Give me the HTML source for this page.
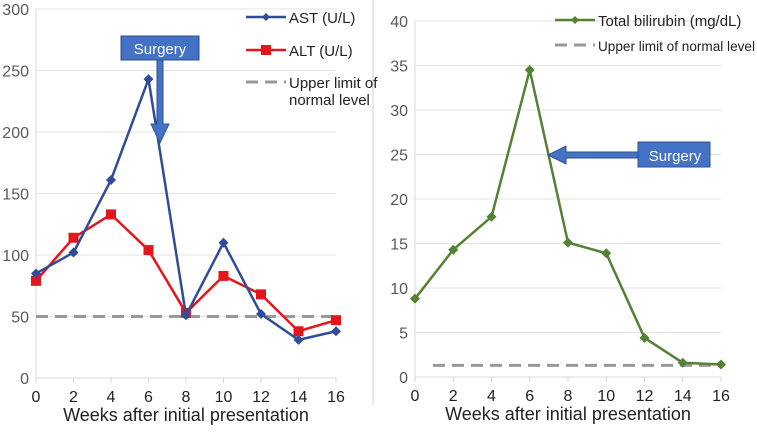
<!DOCTYPE html>
<html><head><meta charset="utf-8"><style>
body{margin:0;background:#fff}
svg text{font-family:"Liberation Sans",sans-serif}
</style></head><body>
<svg width="757" height="428" viewBox="0 0 757 428">
<g id="left"></g>
<g id="right"></g>
<line x1="373" y1="0" x2="373" y2="405" stroke="#d0d0d0" stroke-width="1"/>
</svg>
<script>
const weeks=[0,2,4,6,8,10,12,14,16];
const astValues=[85,102,161,243,51,110,52,31,38];
const altValues=[79,114,133,104,53,83,68,38,47];
const bilirubinValues=[8.8,14.3,18,34.5,15.1,13.9,4.4,1.6,1.4];
const leftTicks=[0,50,100,150,200,250,300];
const rightTicks=[0,5,10,15,20,25,30,35,40];
const astLimit=50, biliLimit=1.3;
const NS='http://www.w3.org/2000/svg';
function mk(p,t,a,txt){const e=document.createElementNS(NS,t);for(const k in a)e.setAttribute(k,a[k]);if(txt!=null)e.textContent=txt;p.appendChild(e);return e;}
function chart(g,x0,x1,y0,yTop,ymax,ticks,gridRight){
  const sx=v=>x0+(v/16)*(x1-x0), sy=v=>y0-(v/ymax)*(y0-yTop);
  ticks.forEach(t=>{
    if(t>0){const l=mk(g,'line',{x1:x0,x2:gridRight,y1:sy(t),y2:sy(t),stroke:'#e3e3e3'});}
    const tx=mk(g,'text',{x:x0-7,y:sy(t)+6,'text-anchor':'end','font-size':16,fill:'#595959'},t);
    
  });
  const ax=mk(g,'line',{x1:x0,x2:x0,y1:sy(ticks[ticks.length-1]),y2:y0+5,stroke:'#d9d9d9'});
  const bx=mk(g,'line',{x1:x0,x2:x1,y1:y0,y2:y0,stroke:'#d9d9d9'});
  weeks.forEach(w=>{
    const tk=mk(g,'line',{x1:sx(w),x2:sx(w),y1:y0,y2:y0+5,stroke:'#d9d9d9'});
    const t=mk(g,'text',{x:sx(w),y:y0+24,'text-anchor':'middle','font-size':16,fill:'#222'},w);
    
  });
  const tt=mk(g,'text',{x:(x0+x1)/2,y:y0+43,'text-anchor':'middle','font-size':18,fill:'#222'},'Weeks after initial presentation');
  
  return {sx,sy};
}
function series(g,sx,sy,vals,color,shape,name){
  const pl=mk(g,'polyline',{points:vals.map((v,i)=>sx(weeks[i])+','+sy(v)).join(' '),fill:'none',stroke:color,'stroke-width':2.5});
  
  vals.forEach((v,i)=>{const x=sx(weeks[i]),y=sy(v);let m;
    if(shape==='sq')m=mk(g,'rect',{x:x-5,y:y-5,width:10,height:10,fill:color});
    else m=mk(g,'polygon',{points:`${x},${y-5} ${x+5},${y} ${x},${y+5} ${x-5},${y}`,fill:color});
    });
}
function legend(g,x,y,color,shape,label,dash,fs,tl){
  const l=mk(g,'line',{x1:x,x2:x+40,y1:y,y2:y,stroke:color,'stroke-width':dash?3:2.5});
  if(dash)l.setAttribute('stroke-dasharray','12 7');
  
  if(shape==='sq'){const m=mk(g,'rect',{x:x+15,y:y-5,width:10,height:10,fill:color});}
  if(shape==='di'){const m=mk(g,'polygon',{points:`${x+20},${y-4} ${x+24},${y} ${x+20},${y+4} ${x+16},${y}`,fill:color});}
  label.forEach((s,i)=>{const t=mk(g,'text',{x:x+43,y:y+6+i*17,'font-size':fs||15,fill:'#222'},s);
    if(tl){t.setAttribute('textLength',tl);t.setAttribute('lengthAdjust','spacingAndGlyphs');}
    });
}
// left
const L=document.getElementById('left');
const a=chart(L,36,336,378,9,300,leftTicks,336);
const ll=mk(L,'line',{x1:36,x2:336,y1:a.sy(astLimit),y2:a.sy(astLimit),stroke:'#999','stroke-width':3,'stroke-dasharray':'12 7'});

series(L,a.sx,a.sy,altValues,'#e3161b','sq','alt');
series(L,a.sx,a.sy,astValues,'#2f4d97','di','ast');
legend(L,246,17,'#2f4d97','di',['AST (U/L)']);
legend(L,246,50,'#e3161b','sq',['ALT (U/L)']);
legend(L,246,82,'#999',null,['Upper limit of','normal level'],true);
const g1=mk(L,'g',{});
mk(g1,'polygon',{points:'157,60 163,60 163,124 169,124 160,143 151,124 157,124',fill:'#4472c4',stroke:'#2f528f'});
mk(g1,'rect',{x:121,y:36,width:78,height:24,fill:'#4472c4',stroke:'#2f528f'});
mk(g1,'text',{x:160,y:54,'text-anchor':'middle','font-size':15,fill:'#fff'},'Surgery');
// right
const R=document.getElementById('right');
const b=chart(R,415,721,377,21,40,rightTicks,721);
const rl=mk(R,'line',{x1:433,x2:721,y1:b.sy(biliLimit),y2:b.sy(biliLimit),stroke:'#999','stroke-width':3,'stroke-dasharray':'12 7'});

series(R,b.sx,b.sy,bilirubinValues,'#548235','di','bilirubin');
legend(R,555,20,'#548235','di',['Total bilirubin (mg/dL)'],false,15);
legend(R,555,45,'#999',null,['Upper limit of normal level'],true,14,157);
const g2=mk(R,'g',{});
mk(g2,'polygon',{points:'638,152 566,152 566,146 548,155 566,164 566,158 638,158',fill:'#4472c4',stroke:'#2f528f'});
mk(g2,'rect',{x:638,y:142,width:72,height:25,fill:'#4472c4',stroke:'#2f528f'});
mk(g2,'text',{x:675,y:161,'text-anchor':'middle','font-size':15,fill:'#fff'},'Surgery');
</script>
</body></html>
